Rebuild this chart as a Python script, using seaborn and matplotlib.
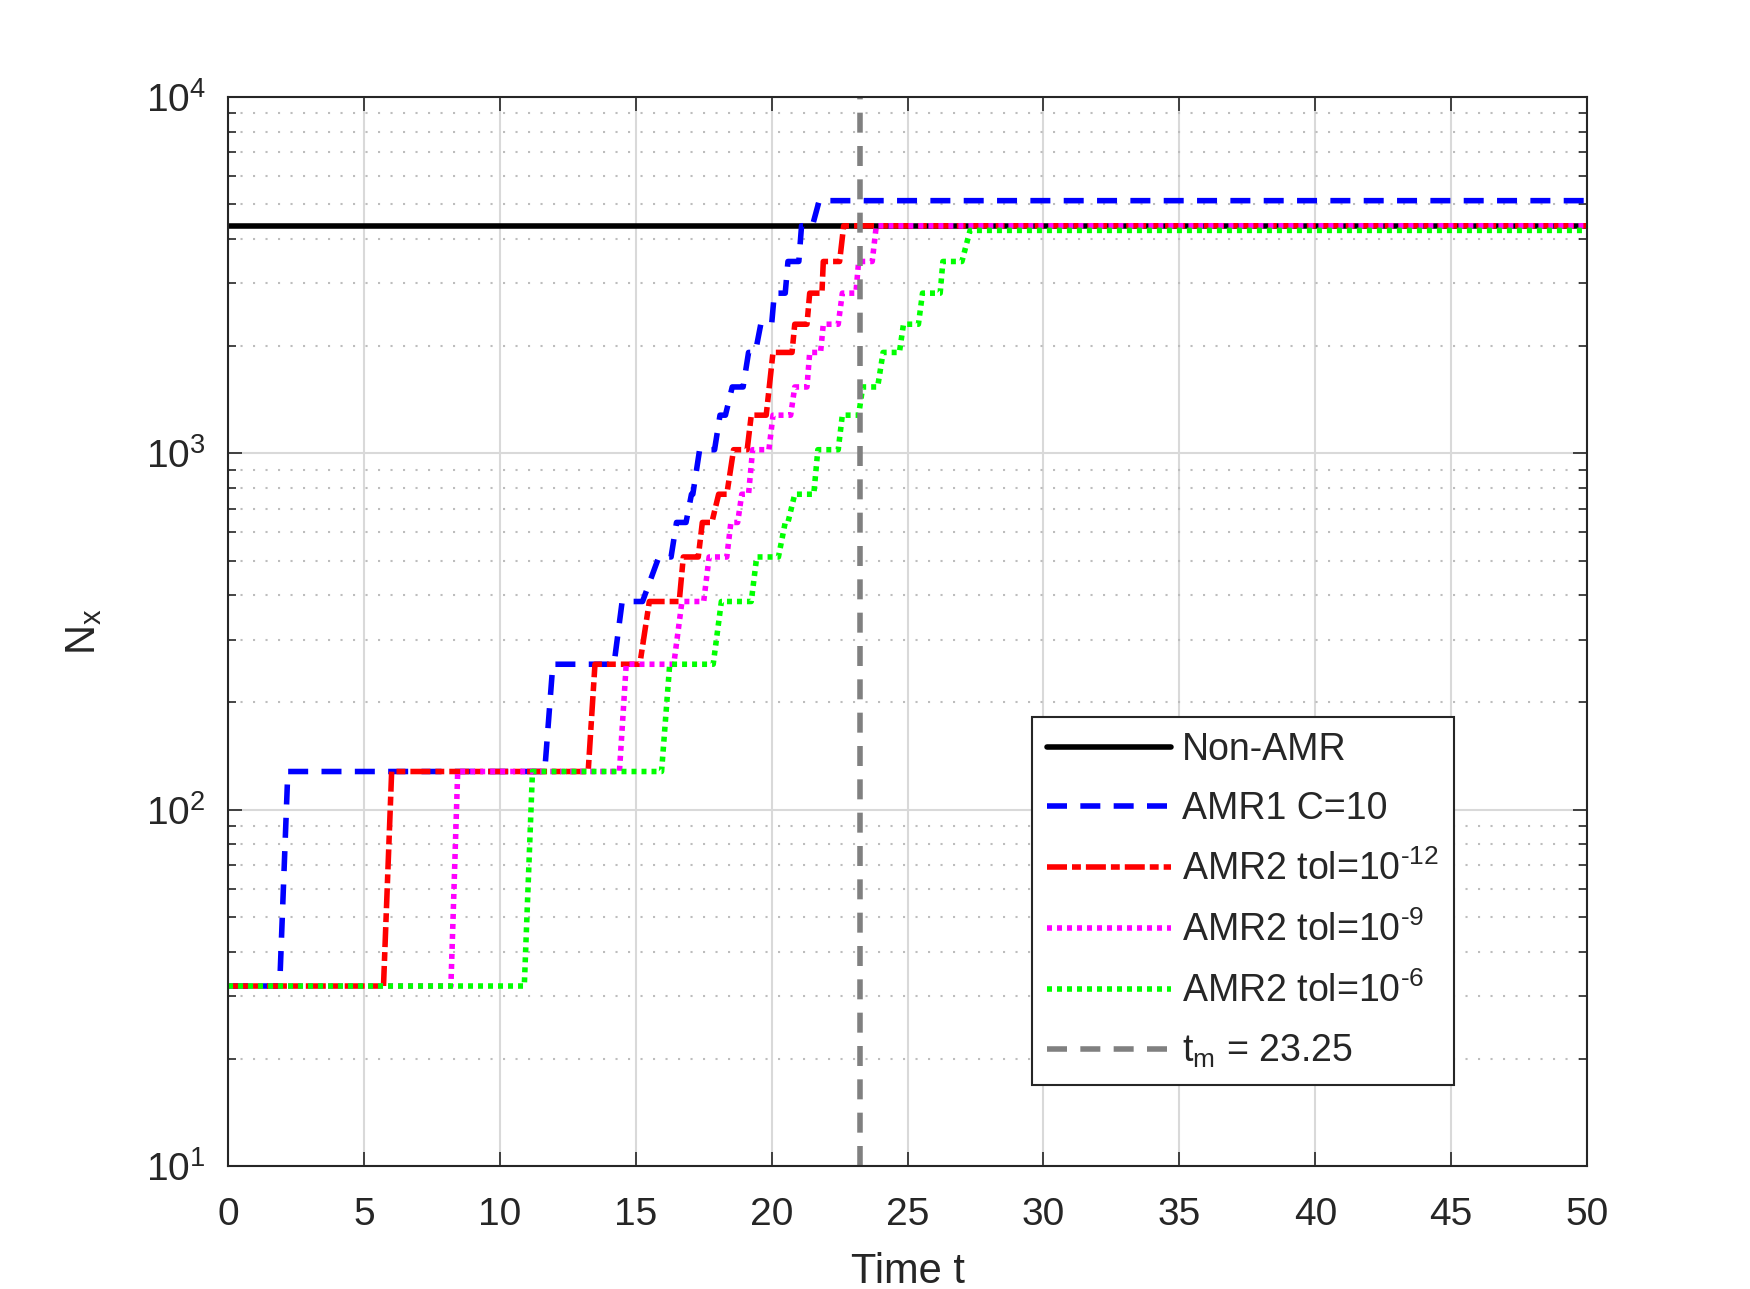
import numpy as np
import matplotlib
matplotlib.use("Agg")
import matplotlib.pyplot as plt
import seaborn as sns
from matplotlib.ticker import LogLocator, NullFormatter, MultipleLocator

# ---------------------------
# Data
# ---------------------------
t_nonamr = [0, 50]
n_nonamr = [4352, 4352]

t_amr1 = [0, 1.9, 2.2, 11.65, 11.95, 14.2, 14.5, 15.25, 15.85, 16.3, 16.5, 16.85,
          17.05, 17.1, 17.35, 17.9, 18.1, 18.3, 18.55, 18.95, 19.15, 19.4, 19.6,
          20.0, 20.1, 20.5, 20.6, 21.0, 21.1, 21.5, 21.75, 50]
n_amr1 = [32, 32, 128, 128, 256, 256, 384, 384, 512, 512, 640, 640,
          768, 768, 1024, 1024, 1280, 1280, 1536, 1536, 1920, 1920, 2304,
          2304, 2816, 2816, 3456, 3456, 4352, 4352, 5120, 5120]

t_tol12 = [0, 5.72, 6.02, 13.25, 13.5, 15.15, 15.5, 16.6, 16.75, 17.3, 17.45, 17.8,
           18.05, 18.35, 18.6, 19.1, 19.25, 19.8, 20.05, 20.75, 20.85, 21.3, 21.4,
           21.85, 21.9, 22.5, 22.65, 50]
n_tol12 = [32, 32, 128, 128, 256, 256, 384, 384, 512, 512, 640, 640,
           768, 768, 1024, 1024, 1280, 1280, 1920, 1920, 2304, 2304, 2816,
           2816, 3456, 3456, 4352, 4352]

t_tol9 = [0, 8.2, 8.45, 14.4, 14.65, 16.4, 16.7, 17.5, 17.7, 18.35, 18.5, 18.75,
          18.9, 19.15, 19.3, 19.9, 20.05, 20.7, 20.85, 21.3, 21.4, 21.8, 21.9,
          22.45, 22.6, 23.1, 23.2, 23.7, 23.85, 50]
n_tol9 = [32, 32, 128, 128, 256, 256, 384, 384, 512, 512, 640, 640,
          768, 768, 1024, 1024, 1280, 1280, 1536, 1536, 1920, 1920, 2304,
          2304, 2816, 2816, 3456, 3456, 4352, 4352]

t_tol6 = [0, 10.9, 11.2, 15.95, 16.25, 17.85, 18.15, 19.25, 19.45, 20.25, 20.5, 20.6,
          20.85, 21.55, 21.7, 22.45, 22.6, 23.2, 23.35, 23.9, 24.1, 24.7, 24.85,
          25.4, 25.55, 26.2, 26.3, 27.0, 27.3, 50]
n_tol6 = [32, 32, 128, 128, 256, 256, 384, 384, 512, 512, 640, 640,
          768, 768, 1024, 1024, 1280, 1280, 1536, 1536, 1920, 1920, 2304,
          2304, 2816, 2816, 3456, 3456, 4224, 4224]

t_m = 23.25

hy = "\u2010"  # MATLAB-style hyphen instead of minus sign in superscripts
labels = ["Non-AMR", "AMR1 C=10", f"AMR2 tol=10$^{{{hy}12}}$",
          f"AMR2 tol=10$^{{{hy}9}}$", f"AMR2 tol=10$^{{{hy}6}}$", "t$_{m}$ = 23.25"]

# ---------------------------
# Style
# ---------------------------
sns.set_style("ticks")
plt.rcParams["font.family"] = ["Liberation Sans", "DejaVu Sans"]
plt.rcParams["mathtext.default"] = "regular"
plt.rcParams["mathtext.fontset"] = "custom"
plt.rcParams["mathtext.rm"] = "Liberation Sans"
plt.rcParams["axes.edgecolor"] = "#262626"
plt.rcParams["xtick.color"] = "#262626"
plt.rcParams["ytick.color"] = "#262626"

fig = plt.figure(figsize=(17.5, 12.89), dpi=100)
ax = fig.add_axes([0.1303, 0.0954, 0.7766, 0.8293])

lw = 4
sns.lineplot(x=t_nonamr, y=n_nonamr, ax=ax, color="black", lw=lw,
             estimator=None, sort=False, label=labels[0])
sns.lineplot(x=t_amr1, y=n_amr1, ax=ax, color=(0, 0, 1), lw=lw,
             linestyle=(0, (3.6, 2.4)), estimator=None, sort=False, label=labels[1])
sns.lineplot(x=t_tol12, y=n_tol12, ax=ax, color=(1, 0, 0), lw=lw,
             linestyle=(0, (3.6, 0.9, 1.6, 0.9)), estimator=None, sort=False, label=labels[2])
sns.lineplot(x=t_tol9, y=n_tol9, ax=ax, color=(1, 0, 1), lw=lw,
             linestyle=(0, (0.9, 0.9)), estimator=None, sort=False, label=labels[3])
sns.lineplot(x=t_tol6, y=n_tol6, ax=ax, color=(0, 1, 0), lw=lw,
             linestyle=(0, (0.9, 0.9)), estimator=None, sort=False, label=labels[4])
sns.lineplot(x=[t_m, t_m], y=[10, 1e4], ax=ax, color=(0.5, 0.5, 0.5), lw=lw,
             linestyle=(0, (3.6, 2.4)), estimator=None, sort=False, label=labels[5])

ax.set_yscale("log")
ax.set_xlim(0, 50)
ax.set_ylim(10, 1e4)
ax.xaxis.set_major_locator(MultipleLocator(5))
ax.yaxis.set_major_locator(LogLocator(base=10))
ax.yaxis.set_minor_locator(LogLocator(base=10, subs=np.arange(2, 10)))
ax.yaxis.set_minor_formatter(NullFormatter())

# grids like MATLAB
ax.grid(True, which="major", axis="both", color="#d9d9d9", lw=1.5, ls="-")
ax.grid(True, which="minor", axis="y", color="#bdbdbd", lw=1.5, ls=(0, (1, 5)))
ax.set_axisbelow(True)

for s in ax.spines.values():
    s.set_linewidth(1.5)
    s.set_visible(True)
ax.tick_params(which="both", direction="in", top=True, right=True,
               labelsize=28, width=1.2)
ax.tick_params(axis="x", pad=22)
ax.tick_params(axis="y", pad=16)
ax.tick_params(which="major", length=10)
ax.tick_params(which="minor", length=6)

ax.set_xlabel("Time t", fontsize=30, color="#262626", labelpad=14)
ax.set_ylabel("N$_{x}$", fontsize=30, color="#262626", labelpad=30)

leg = ax.legend(loc="upper left", bbox_to_anchor=(0.5916, 0.42), fontsize=27,
                frameon=True, fancybox=False, framealpha=1, edgecolor="#262626",
                handlelength=3.3, handletextpad=0.3, labelspacing=0.62,
                borderpad=0.4, borderaxespad=0)
leg.get_frame().set_linewidth(1.5)

fig.savefig("out.png", dpi=100, facecolor="white")
